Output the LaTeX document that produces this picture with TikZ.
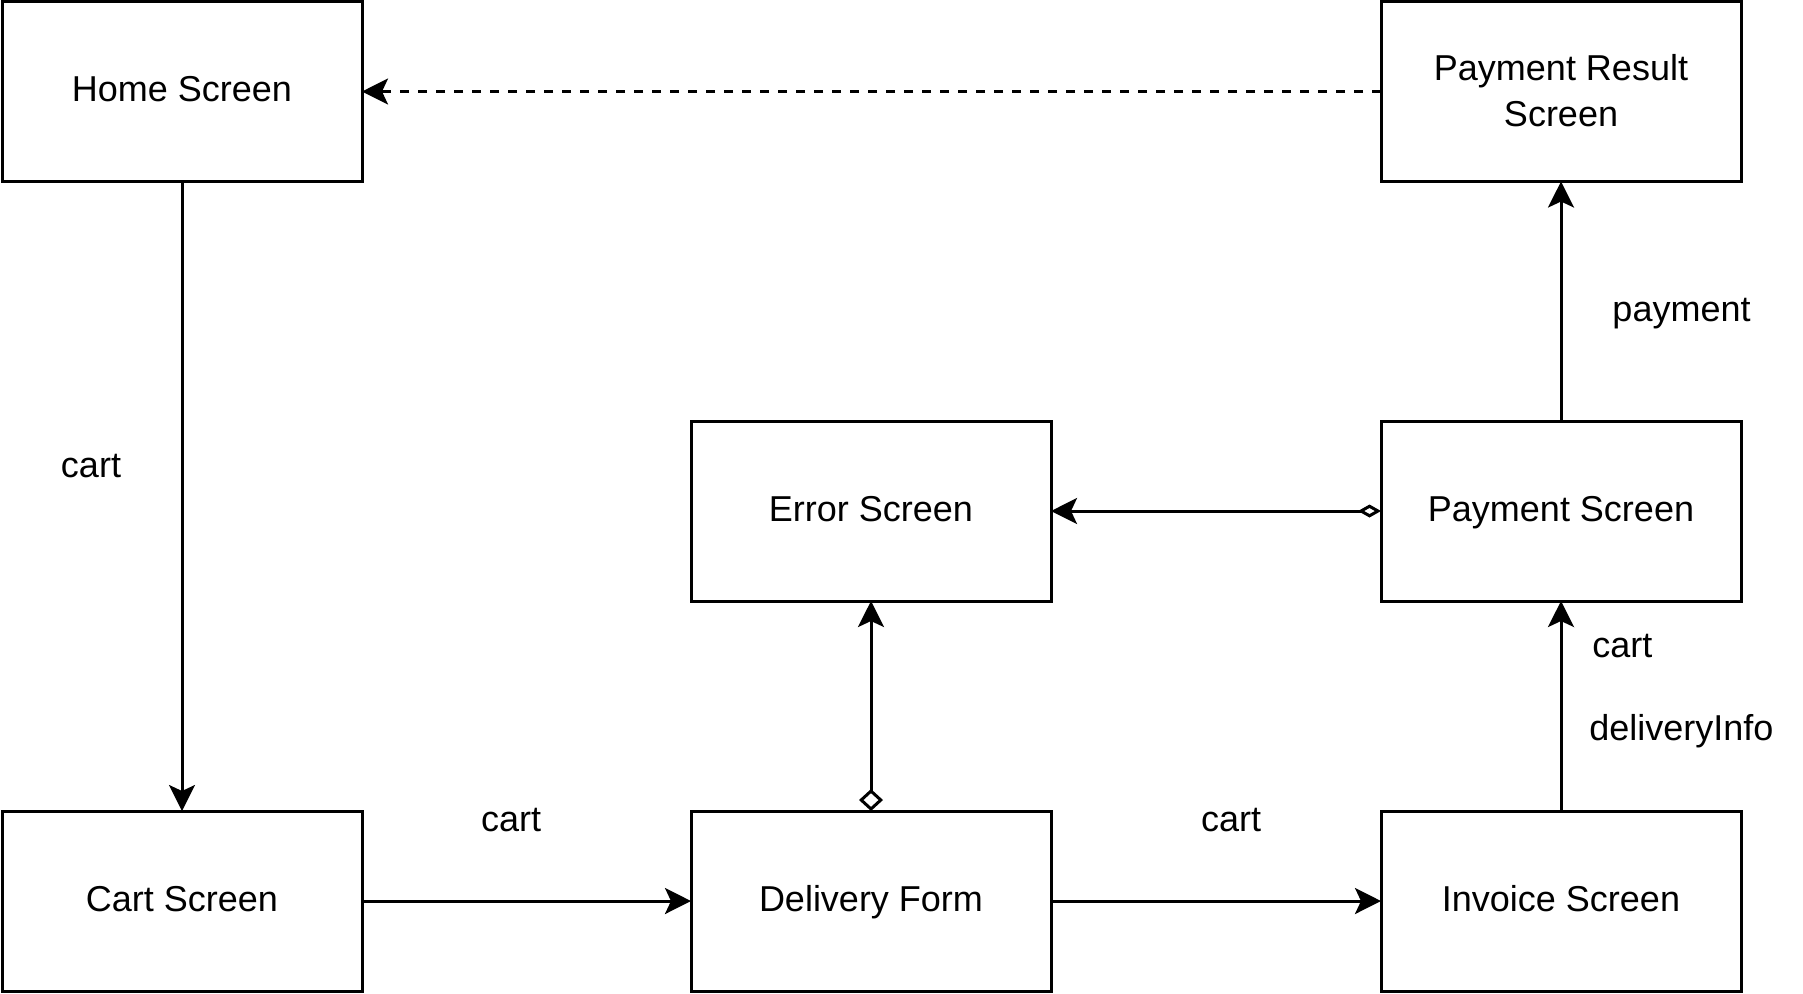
\documentclass[tikz,border=0pt]{standalone}
\usepackage{fontspec}
\setmainfont{Liberation Sans}
\usetikzlibrary{arrows.meta,positioning}

\begin{document}
\begin{tikzpicture}[x=0.5pt,y=-0.5pt,font=\fontsize{18}{23}\selectfont,
  screen/.style={draw,line width=1.5pt,outer sep=0pt,minimum width=180pt,minimum height=90pt,
    inner sep=0pt,align=center,text height=13pt,text depth=3pt},
  flow/.style={line width=1.5pt,-{Stealth[length=13pt,width=13pt,inset=3pt]}},
  back/.style={flow,dash pattern=on 4.5pt off 4.5pt},
  tag/.style={inner sep=0pt}]
  \useasboundingbox (0,0) rectangle (1803,993);
  % screens
  \node [screen] (home) at (182,91.5) {Home Screen};
  \node [screen,below=314.75pt of home] (cart) {Cart Screen};
  \node [screen,right=164.5pt of cart] (delivery) {Delivery Form};
  \node [screen,right=165pt of delivery] (invoice) {Invoice Screen};
  \node [screen,above=105pt of delivery] (error) {Error Screen};
  \node [screen,above=105pt of invoice] (payment) {Payment Screen};
  \node [screen,above=119.75pt of payment,text height=36pt,text depth=1.5pt] (result) {Payment Result\\Screen};
  % connectors
  \draw [flow] (home) -- (cart);
  \draw [flow] (cart) -- (delivery);
  \draw [flow] (delivery) -- (invoice);
  \draw [flow] (invoice) -- (payment);
  \draw [flow] (payment) -- (result);
  \draw [back] (result) -- (home);
  \draw [line width=1.5pt,{Diamond[open,length=11pt,width=12pt]}-{Stealth[length=13pt,width=13pt,inset=3pt]}] (delivery) -- (error);
  \draw [line width=1.5pt,{Diamond[open,length=11.5pt,width=6.5pt]}-{Stealth[length=13pt,width=13pt,inset=3pt]}] (payment) -- (error);
  % labels
  \node [tag] (l1) at (91,466) {cart};
  \node [tag] (l2) at (511,820) {cart};
  \node [tag] (l3) at (1231,820) {cart};
  \node [tag,anchor=west] (l4) at (1592,646) {cart};
  \node [tag,anchor=west] (l5) at (1589,731) {deliveryInfo};
  \node [tag] (l6) at (1681.5,314) {payment};
\end{tikzpicture}
\end{document}
